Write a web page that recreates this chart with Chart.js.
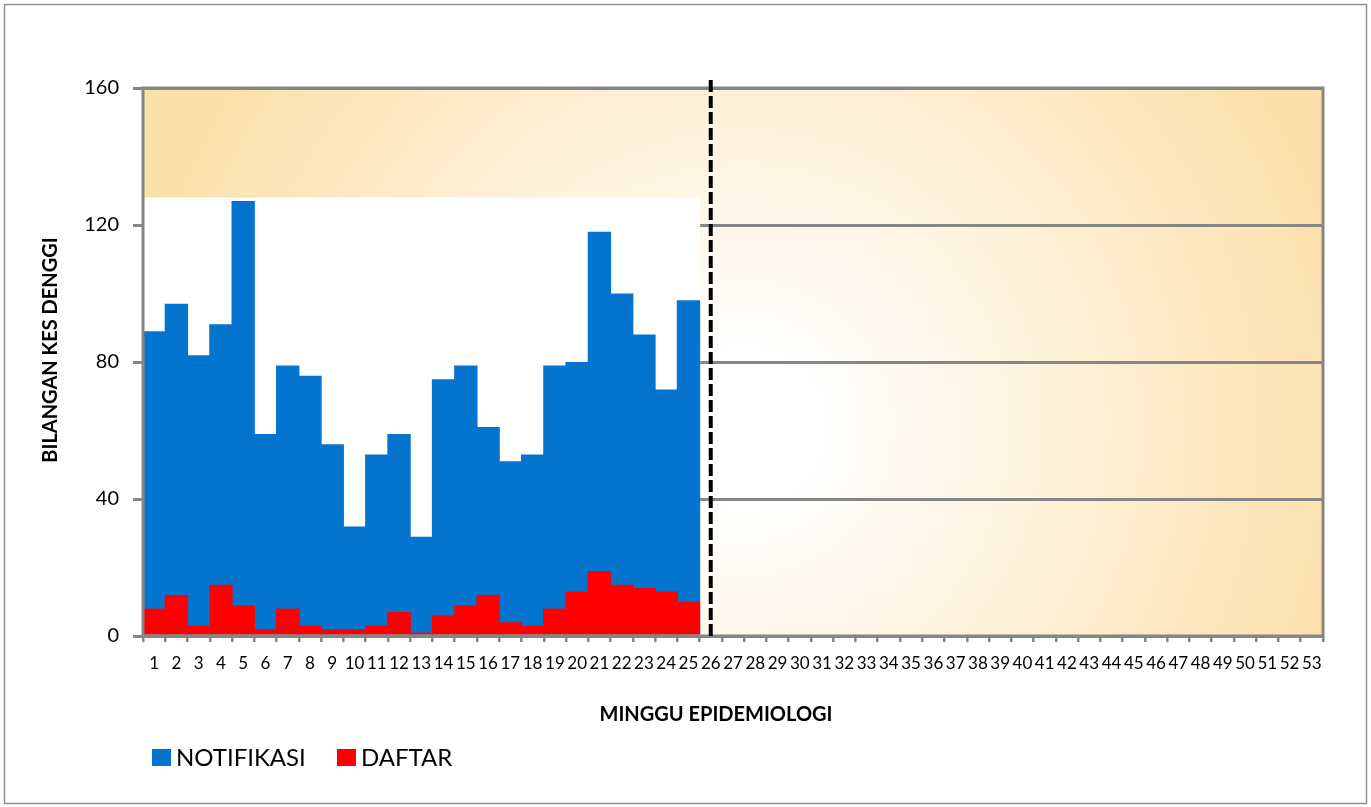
<!DOCTYPE html>
<html>
<head>
<meta charset="utf-8">
<script src="https://cdn.jsdelivr.net/npm/chart.js@4.4.1/dist/chart.umd.min.js"></script>
<style>
  html, body { margin: 0; padding: 0; background: #ffffff; }
  #wrap { width: 1371px; height: 807px; }
  canvas { display: block; }
</style>
</head>
<body>
<div id="wrap"><canvas id="c" width="1371" height="807" style="width:1371px;height:807px"></canvas></div>
<script>
// ---- Data ----
const minggu = ['1','2','3','4','5','6','7','8','9','10','11','12','13','14','15','16','17','18','19','20',
  '21','22','23','24','25','26','27','28','29','30','31','32','33','34','35','36','37','38','39','40',
  '41','42','43','44','45','46','47','48','49','50','51','52','53'];
const notifikasi = [89, 97, 82, 91, 127, 59, 79, 76, 56, 32, 53, 59, 29, 75, 79, 61, 51, 53, 79, 80, 118, 100, 88, 72, 98];
const daftar = [8, 12, 3, 15, 9, 2, 8, 3, 2, 2, 3, 7, 1, 6, 9, 12, 4, 3, 8, 13, 19, 15, 14, 13, 10];
const latar = [128, 128, 128, 128, 128, 128, 128, 128, 128, 128, 128, 128, 128, 128, 128, 128, 128, 128, 128, 128, 128, 128, 128, 128, 128];
const mingguSemasa = '26';
const yTicks = [0, 40, 80, 120, 160];
const tajukY = 'BILANGAN KES DENGGI';
const tajukX = 'MINGGU EPIDEMIOLOGI';
const legendOrder = ['NOTIFIKASI', 'DAFTAR'];

const BLUE = '#0574CE';
const RED = '#FF0000';
const GRAY = '#868686';
const FONT = 'Lato, "Open Sans", sans-serif';

const bgPlugin = {
  id: 'bg',
  beforeDraw(chart) {
    const { ctx, chartArea: a } = chart;
    ctx.save();
    ctx.fillStyle = '#ffffff';
    ctx.fillRect(0, 0, chart.width, chart.height);
    const cx = a.left + (a.right - a.left) * 0.51;
    const cy = a.top + (a.bottom - a.top) * 0.62;
    const g = ctx.createRadialGradient(cx, cy, 0, cx, cy, 620);
    g.addColorStop(0, '#ffffff');
    g.addColorStop(0.12, '#ffffff');
    g.addColorStop(1, 'rgb(252,224,170)');
    ctx.fillStyle = g;
    ctx.fillRect(a.left, a.top, a.right - a.left, a.bottom - a.top);
    ctx.strokeStyle = '#8f8f8f';
    ctx.lineWidth = 1.5;
    ctx.strokeRect(4.5, 4.5, chart.width - 9, chart.height - 8);
    ctx.restore();
  },
  afterDatasetsDraw(chart) {
    const { ctx, chartArea: a, scales } = chart;
    ctx.save();
    ctx.strokeStyle = GRAY;
    ctx.lineWidth = 3;
    ctx.strokeRect(a.left, a.top, a.right - a.left, a.bottom - a.top);
    const x = scales.x.getPixelForValue(minggu.indexOf(mingguSemasa));
    ctx.strokeStyle = '#000000';
    ctx.lineWidth = 4;
    ctx.setLineDash([12, 4]);
    ctx.beginPath();
    ctx.moveTo(x, a.top - 8);
    ctx.lineTo(x, a.bottom);
    ctx.stroke();
    ctx.restore();
  },
  afterDraw(chart) {
    const { ctx } = chart;
    ctx.save();
    ctx.fillStyle = '#000000';
    ctx.font = 'bold 20px ' + FONT;
    ctx.textAlign = 'center';
    ctx.textBaseline = 'middle';
    ctx.fillText(tajukX, 716, 715);
    ctx.translate(51, 350);
    ctx.rotate(-Math.PI / 2);
    ctx.fillText(tajukY, 0, 0);
    ctx.restore();
    ctx.save();
    ctx.font = '24px ' + FONT;
    ctx.textBaseline = 'middle';
    ctx.textAlign = 'left';
    const pos = [152, 337];
    legendOrder.forEach((name, i) => {
      const d = chart.data.datasets.find(ds => ds.label === name);
      const x0 = pos[i];
      ctx.fillStyle = d.backgroundColor;
      ctx.fillRect(x0, 749, 19, 17);
      ctx.fillStyle = '#000000';
      ctx.fillText(d.label, x0 + 24, 758);
    });
    ctx.restore();
  }
};

new Chart(document.getElementById('c'), {
  type: 'bar',
  data: {
    labels: minggu,
    datasets: [
      { label: 'DAFTAR', data: daftar, backgroundColor: RED },
      { label: 'NOTIFIKASI', data: notifikasi, backgroundColor: BLUE },
      { label: 'latar', data: latar, backgroundColor: '#ffffff' }
    ]
  },
  options: {
    responsive: false,
    animation: false,
    events: [],
    datasets: {
      bar: { grouped: false, barPercentage: 1.05, categoryPercentage: 1, borderWidth: 0 }
    },
    layout: { padding: { top: 88, right: 48, bottom: 131, left: 0 } },
    plugins: { legend: { display: false }, tooltip: { enabled: false }, title: { display: false } },
    scales: {
      x: {
        type: 'category',
        offset: true,
        grid: { offset: true, drawOnChartArea: false, drawTicks: true, tickLength: 6, color: GRAY, lineWidth: 2.5 },
        border: { display: false },
        ticks: { autoSkip: false, maxRotation: 0, minRotation: 0, color: '#000000', font: { family: FONT, size: 17 }, padding: 11 },
        afterFit(s) { s.height = 40; }
      },
      y: {
        min: 0, max: 160,
        afterBuildTicks(s) { s.ticks = yTicks.map(v => ({ value: v })); },
        grid: { color: GRAY, lineWidth: 3, drawTicks: true, tickLength: 10 },
        border: { display: false },
        ticks: { color: '#000000', font: { family: FONT, size: 20 }, padding: 14 },
        afterFit(s) { s.width = 143; }
      }
    }
  },
  plugins: [bgPlugin]
});
</script>
</body>
</html>
